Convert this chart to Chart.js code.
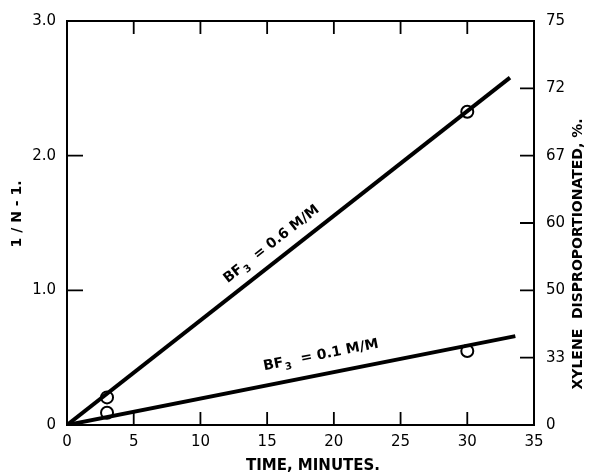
<!DOCTYPE html>
<html>
<head>
<meta charset="utf-8">
<script src="https://cdn.jsdelivr.net/npm/chart.js@4"></script>
<style>
  html, body { margin: 0; padding: 0; background: #fff; }
  #wrap { width: 589px; height: 475px; }
</style>
</head>
<body>
<div id="wrap"><canvas id="chart" width="589" height="475"></canvas></div>
<script>
// axis ticks
const xTicks = [0, 5, 10, 15, 20, 25, 30, 35];
const leftTicks = [0, 1, 2, 3];
const rightTickValues = [0, 0.5, 1, 1.5, 2, 2.5, 3];
const rightTickLabels = ['0', '33', '50', '60', '67', '72', '75'];

// measured points (time, 1/N-1)
const highPoints = [{ x: 3, y: 0.205 }, { x: 30, y: 2.326 }];
const lowPoints = [{ x: 3, y: 0.091 }, { x: 30, y: 0.549 }];
// drawn straight lines
const highLine = [{ x: 0, y: 0 }, { x: 33.2, y: 2.58 }];
const lowLine = [{ x: 0, y: 0 }, { x: 33.6, y: 0.66 }];
// line labels: concentration, centre (data coords)
const highLabel = { conc: '0.6', at: { x: 15.3, y: 1.34 }, line: highLine };
const lowLabel = { conc: '0.1', at: { x: 19.0, y: 0.517 }, line: lowLine };

const FONT = '"DejaVu Sans", sans-serif';
const tickFont = { family: FONT, size: 15 };

function fixTicks(values) {
  return scale => { scale.ticks = values.map(v => ({ value: v })); };
}

const decor = {
  id: 'decor',
  afterDatasetsDraw(chart) {
    const c = chart.ctx;
    const ca = chart.chartArea;
    const x = chart.scales.x, y = chart.scales.y, y2 = chart.scales.y2;
    c.save();
    c.strokeStyle = '#000';
    c.lineWidth = 2;
    c.strokeRect(ca.left, ca.top, ca.right - ca.left, ca.bottom - ca.top);

    // inward tick marks
    c.lineWidth = 1.8;
    c.beginPath();
    xTicks.slice(1, -1).forEach(v => {
      const px = x.getPixelForValue(v);
      c.moveTo(px, ca.bottom); c.lineTo(px, ca.bottom - 13);
      c.moveTo(px, ca.top); c.lineTo(px, ca.top + 13);
    });
    leftTicks.slice(1, -1).forEach(v => {
      const py = y.getPixelForValue(v);
      c.moveTo(ca.left, py); c.lineTo(ca.left + 16, py);
    });
    rightTickValues.slice(1, -1).forEach(v => {
      const py = y2.getPixelForValue(v);
      c.moveTo(ca.right, py); c.lineTo(ca.right - 14, py);
    });
    c.stroke();

    // line labels
    c.fillStyle = '#000';
    [highLabel, lowLabel].forEach(lab => {
      const p0 = lab.line[0], p1 = lab.line[1];
      const ang = Math.atan2(
        y.getPixelForValue(p1.y) - y.getPixelForValue(p0.y),
        x.getPixelForValue(p1.x) - x.getPixelForValue(p0.x));
      const cx = x.getPixelForValue(lab.at.x), cy = y.getPixelForValue(lab.at.y);
      c.save();
      c.translate(cx, cy);
      c.rotate(ang);
      c.textBaseline = 'middle';
      c.textAlign = 'left';
      const big = 'bold 14px ' + FONT, small = 'bold 10px ' + FONT;
      c.font = big;
      const wBF = c.measureText('BF').width;
      const rest = '  = ' + lab.conc + ' M/M';
      const wRest = c.measureText(rest).width;
      c.font = small;
      const w3 = c.measureText('3').width;
      let sx = -(wBF + w3 + wRest) / 2;
      c.font = big;
      c.fillText('BF', sx, 0);
      c.font = small;
      c.fillText('3', sx + wBF + 1, 5);
      c.font = big;
      c.fillText(rest, sx + wBF + w3 + 1, 0);
      c.restore();
    });

    // axis titles
    c.font = 'bold 15px ' + FONT;
    c.textAlign = 'center';
    c.textBaseline = 'middle';
    c.fillText('TIME, MINUTES.', 313, 466);
    c.font = 'bold 14px ' + FONT;
    c.save();
    c.translate(17, 214);
    c.rotate(-Math.PI / 2);
    c.fillText('1 / N - 1.', 0, 0);
    c.restore();
    c.save();
    c.translate(578, 254);
    c.rotate(-Math.PI / 2);
    c.fillText('XYLENE  DISPROPORTIONATED, %.', 0, 0);
    c.restore();
    c.restore();
  }
};

new Chart(document.getElementById('chart'), {
  type: 'scatter',
  data: {
    datasets: [
      { data: highLine, showLine: true, borderColor: '#000', borderWidth: 4, pointRadius: 0 },
      { data: lowLine, showLine: true, borderColor: '#000', borderWidth: 4, pointRadius: 0 },
      { data: highPoints.concat(lowPoints), showLine: false, pointRadius: 6,
        pointBackgroundColor: '#fff', pointBorderColor: '#000', pointBorderWidth: 2 }
    ]
  },
  options: {
    responsive: false,
    devicePixelRatio: 1,
    animation: false,
    layout: { padding: { top: 16, left: 0, right: 0, bottom: 0 } },
    plugins: { legend: { display: false }, tooltip: { enabled: false } },
    scales: {
      x: {
        type: 'linear', min: 0, max: 35,
        afterBuildTicks: fixTicks(xTicks),
        afterFit: s => { s.height = 50; },
        grid: { display: false, drawTicks: false },
        border: { display: false },
        ticks: { color: '#000', font: tickFont, padding: 8, maxRotation: 0 }
      },
      y: {
        type: 'linear', position: 'left', min: 0, max: 3,
        afterBuildTicks: fixTicks(leftTicks),
        afterFit: s => { s.width = 67; },
        grid: { display: false, drawTicks: false },
        border: { display: false },
        ticks: { color: '#000', font: tickFont, padding: 11, callback: v => v === 0 ? '0' : v.toFixed(1) }
      },
      y2: {
        type: 'linear', position: 'right', min: 0, max: 3,
        afterBuildTicks: fixTicks(rightTickValues),
        afterFit: s => { s.width = 55; },
        grid: { display: false, drawTicks: false },
        border: { display: false },
        ticks: { color: '#000', font: tickFont, padding: 12,
          callback: v => rightTickLabels[rightTickValues.indexOf(v)] }
      }
    }
  },
  plugins: [decor]
});
</script>
</body>
</html>
